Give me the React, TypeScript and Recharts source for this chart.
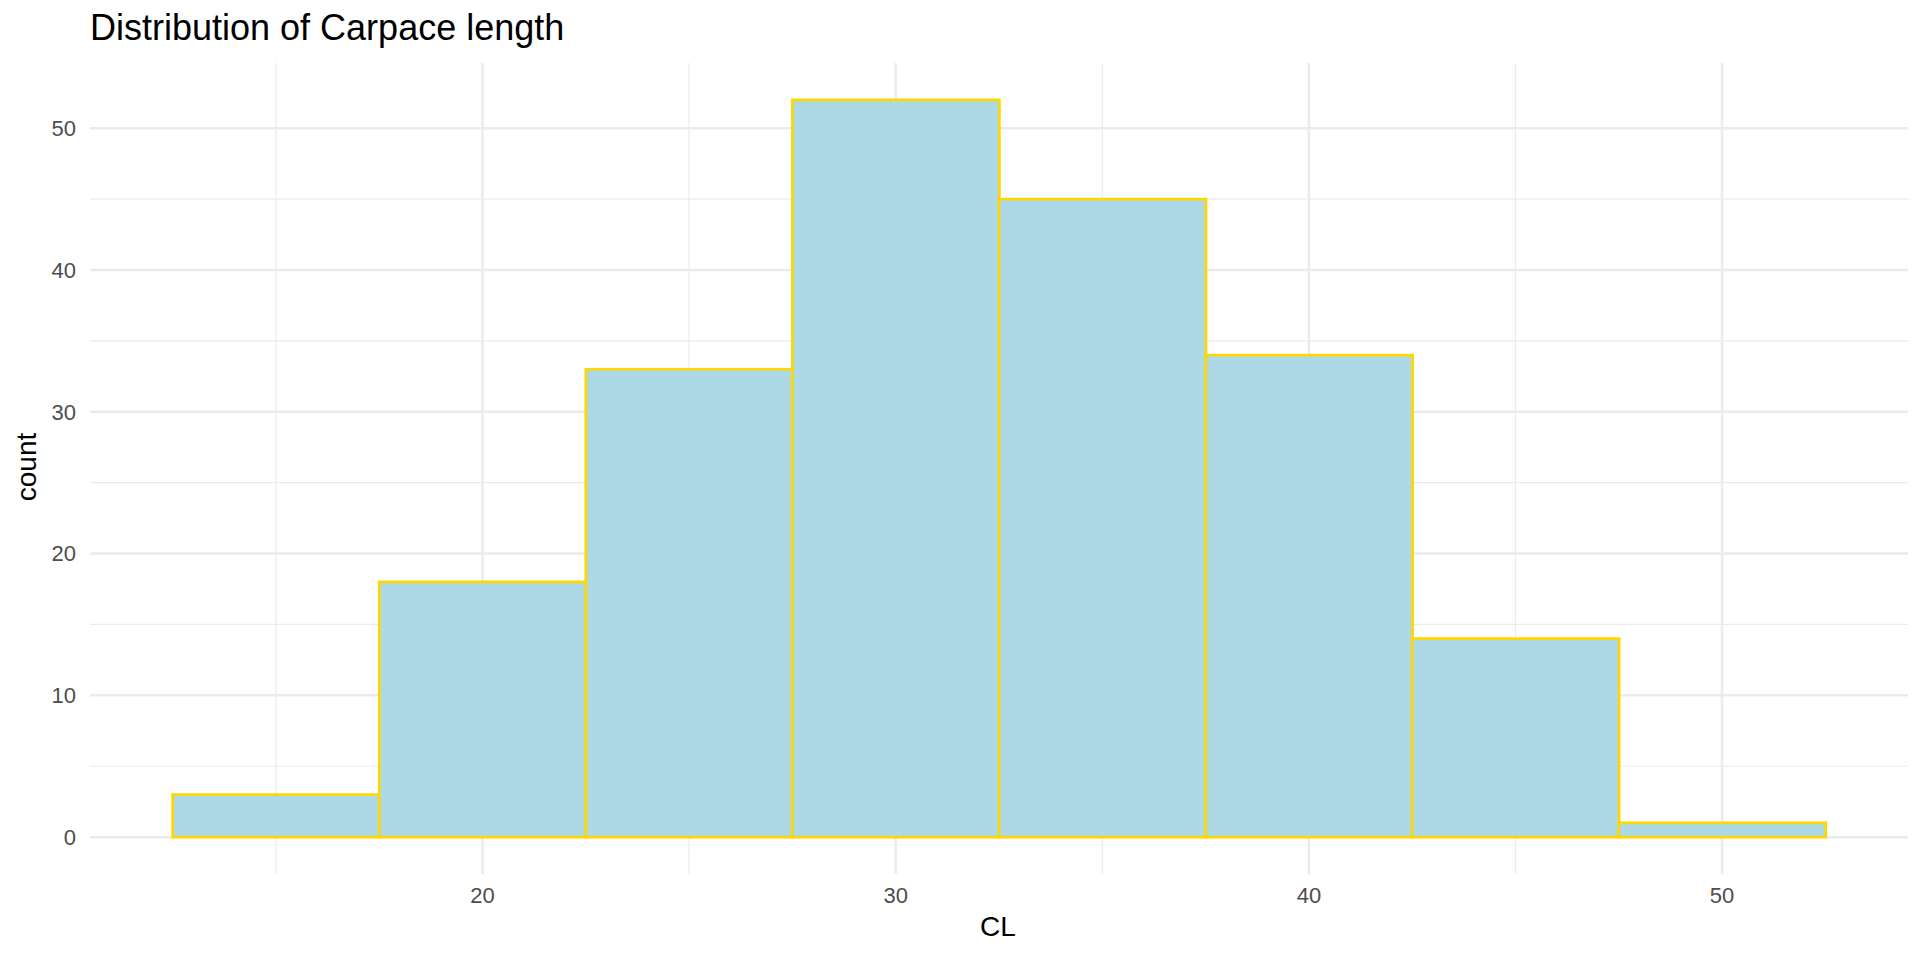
import { BarChart, Bar, XAxis, YAxis, CartesianGrid } from 'recharts'

// histogram bins (midpoints, binwidth 5) and counts
const binMids = [15, 20, 25, 30, 35, 40, 45, 50]
const counts = [3, 18, 33, 52, 45, 34, 14, 1]

const xTicks = [20, 30, 40, 50]
const xMinor = [15, 25, 35, 45]
const yTicks = [0, 10, 20, 30, 40, 50]
const yMinor = [5, 15, 25, 35, 45]

const data = binMids.map((cl, i) => ({ cl, count: counts[i] }))

const WIDTH = 1920
const HEIGHT = 960
const FONT = '"Liberation Sans", Arial, sans-serif'
const GRID = '#EBEBEB'

export default function App() {
  return (
    <div style={{ position: 'absolute', left: 0, top: 0, width: WIDTH, height: HEIGHT, background: '#fff', fontFamily: FONT }}>
      <BarChart
        width={WIDTH}
        height={HEIGHT}
        data={data}
        margin={{ top: 63, right: 12, left: 30, bottom: 46 }}
        barCategoryGap={0}
        barGap={0}
      >
        <CartesianGrid
          stroke={GRID}
          strokeWidth={1.2}
          horizontalValues={yMinor}
          verticalValues={xMinor}
        />
        <CartesianGrid
          stroke={GRID}
          strokeWidth={2.5}
          horizontalValues={yTicks}
          verticalValues={xTicks}
        />
        <XAxis
          dataKey="cl"
          type="number"
          domain={[10.5, 54.5]}
          allowDataOverflow
          ticks={xTicks}
          axisLine={false}
          tickLine={false}
          tickSize={0}
          tickMargin={13}
          height={40}
          tick={{ fill: '#4D4D4D', fontSize: 22, fontFamily: FONT }}
        />
        <YAxis
          type="number"
          domain={[-2.6, 54.6]}
          allowDataOverflow
          ticks={yTicks}
          axisLine={false}
          tickLine={false}
          tickSize={0}
          tickMargin={14}
          width={60}
          tick={{ fill: '#4D4D4D', fontSize: 22, fontFamily: FONT }}
        />
        <Bar
          dataKey="count"
          fill="#ADD8E6"
          stroke="#FFD700"
          strokeWidth={2.7}
          isAnimationActive={false}
        />
      </BarChart>

      <div style={{ position: 'absolute', left: 90, top: 10, fontSize: 36, lineHeight: 1, color: '#000', whiteSpace: 'nowrap' }}>
        Distribution of Carpace length
      </div>
      <div style={{ position: 'absolute', left: 998, top: 927, transform: 'translate(-50%, -50%)', fontSize: 28, lineHeight: 1, color: '#000' }}>
        CL
      </div>
      <div style={{ position: 'absolute', left: 27, top: 467, transform: 'translate(-50%, -50%) rotate(-90deg)', fontSize: 28, lineHeight: 1, color: '#000' }}>
        count
      </div>
    </div>
  )
}
